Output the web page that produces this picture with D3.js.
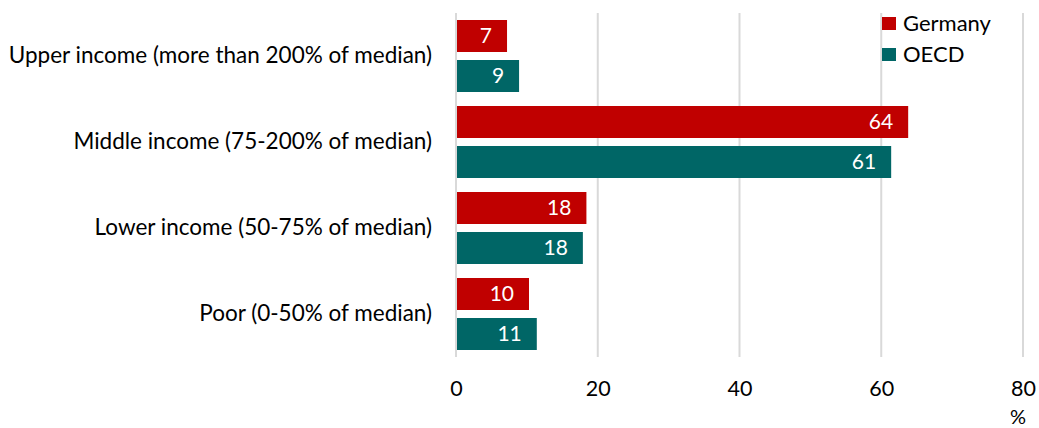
<!DOCTYPE html>
<html>
<head>
<meta charset="utf-8">
<script src="https://cdn.jsdelivr.net/npm/d3@7"></script>
<style>
  html, body { margin: 0; padding: 0; background: #fff; }
  svg { display: block; font-family: Lato, "Open Sans", sans-serif; }
</style>
</head>
<body>
<svg id="chart" width="1039" height="428"></svg>
<script>
const categories = [
  "Upper income (more than 200% of median)",
  "Middle income (75-200% of median)",
  "Lower income (50-75% of median)",
  "Poor (0-50% of median)"
];
const seriesNames = ["Germany", "OECD"];
const germanyValues = [7.2, 63.8, 18.4, 10.3];
const oecdValues = [8.9, 61.4, 17.9, 11.4];
const xTicks = [0, 20, 40, 60, 80];
const unitLabel = "%";
const colors = { Germany: "#C00000", OECD: "#006666" };

const svg = d3.select("#chart");
const x = d3.scaleLinear().domain([0, 80]).range([456, 1023]);
const y = d3.scaleBand().domain(categories).range([13, 357]).padding(0);
const yInner = d3.scaleBand().domain(seriesNames).range([7, y.bandwidth() - 7]).paddingInner(0.2).paddingOuter(0);

const data = categories.map((c, i) => ({ cat: c, vals: [
  { s: "Germany", v: germanyValues[i] },
  { s: "OECD", v: oecdValues[i] }
]}));

// gridlines
svg.append("g").selectAll("line").data(xTicks).join("line")
  .attr("x1", d => x(d)).attr("x2", d => x(d))
  .attr("y1", 13).attr("y2", 357)
  .attr("stroke", "#D9D9D9").attr("stroke-width", 2);

// x axis labels
const xAxis = d3.axisBottom(x).tickValues(xTicks).tickSize(0).tickPadding(0);
const gx = svg.append("g").attr("transform", "translate(0,388)").call(xAxis);
gx.select(".domain").remove();
gx.selectAll("text").attr("font-family", "Lato, sans-serif").attr("font-size", 21.5)
  .attr("fill", "#000").attr("dy", "0.35em").attr("y", 0);

svg.append("text").attr("x", 1018).attr("y", 424)
  .attr("text-anchor", "middle").attr("font-size", 20).text(unitLabel);

// y axis labels
const yAxis = d3.axisLeft(y).tickSize(0).tickPadding(0);
const gy = svg.append("g").attr("transform", "translate(432,0)").call(yAxis);
gy.select(".domain").remove();
gy.selectAll("text").attr("font-family", "Lato, sans-serif").attr("font-size", 22.5).attr("fill", "#000");

// bars
const groups = svg.append("g").selectAll("g").data(data).join("g")
  .attr("transform", d => `translate(0,${y(d.cat)})`);
groups.selectAll("rect").data(d => d.vals).join("rect")
  .attr("x", x(0) + 1)
  .attr("y", d => yInner(d.s))
  .attr("width", d => x(d.v) - x(0) - 1)
  .attr("height", yInner.bandwidth())
  .attr("fill", d => colors[d.s]);
groups.selectAll("text").data(d => d.vals).join("text")
  .attr("x", d => x(d.v) - 15)
  .attr("y", d => yInner(d.s) + yInner.bandwidth() / 2)
  .attr("dy", "0.35em")
  .attr("text-anchor", "end")
  .attr("fill", "#fff").attr("font-size", 21)
  .text(d => Math.round(d.v));

// legend
const legend = svg.append("g").selectAll("g").data(seriesNames).join("g")
  .attr("transform", (d, i) => `translate(882,${17 + i * 31})`);
legend.append("rect").attr("width", 14).attr("height", 13).attr("fill", d => colors[d]);
legend.append("text").attr("x", 21).attr("y", 6.5).attr("dy", "0.35em")
  .attr("font-size", 22).attr("fill", "#000").text(d => d);
</script>
</body>
</html>
